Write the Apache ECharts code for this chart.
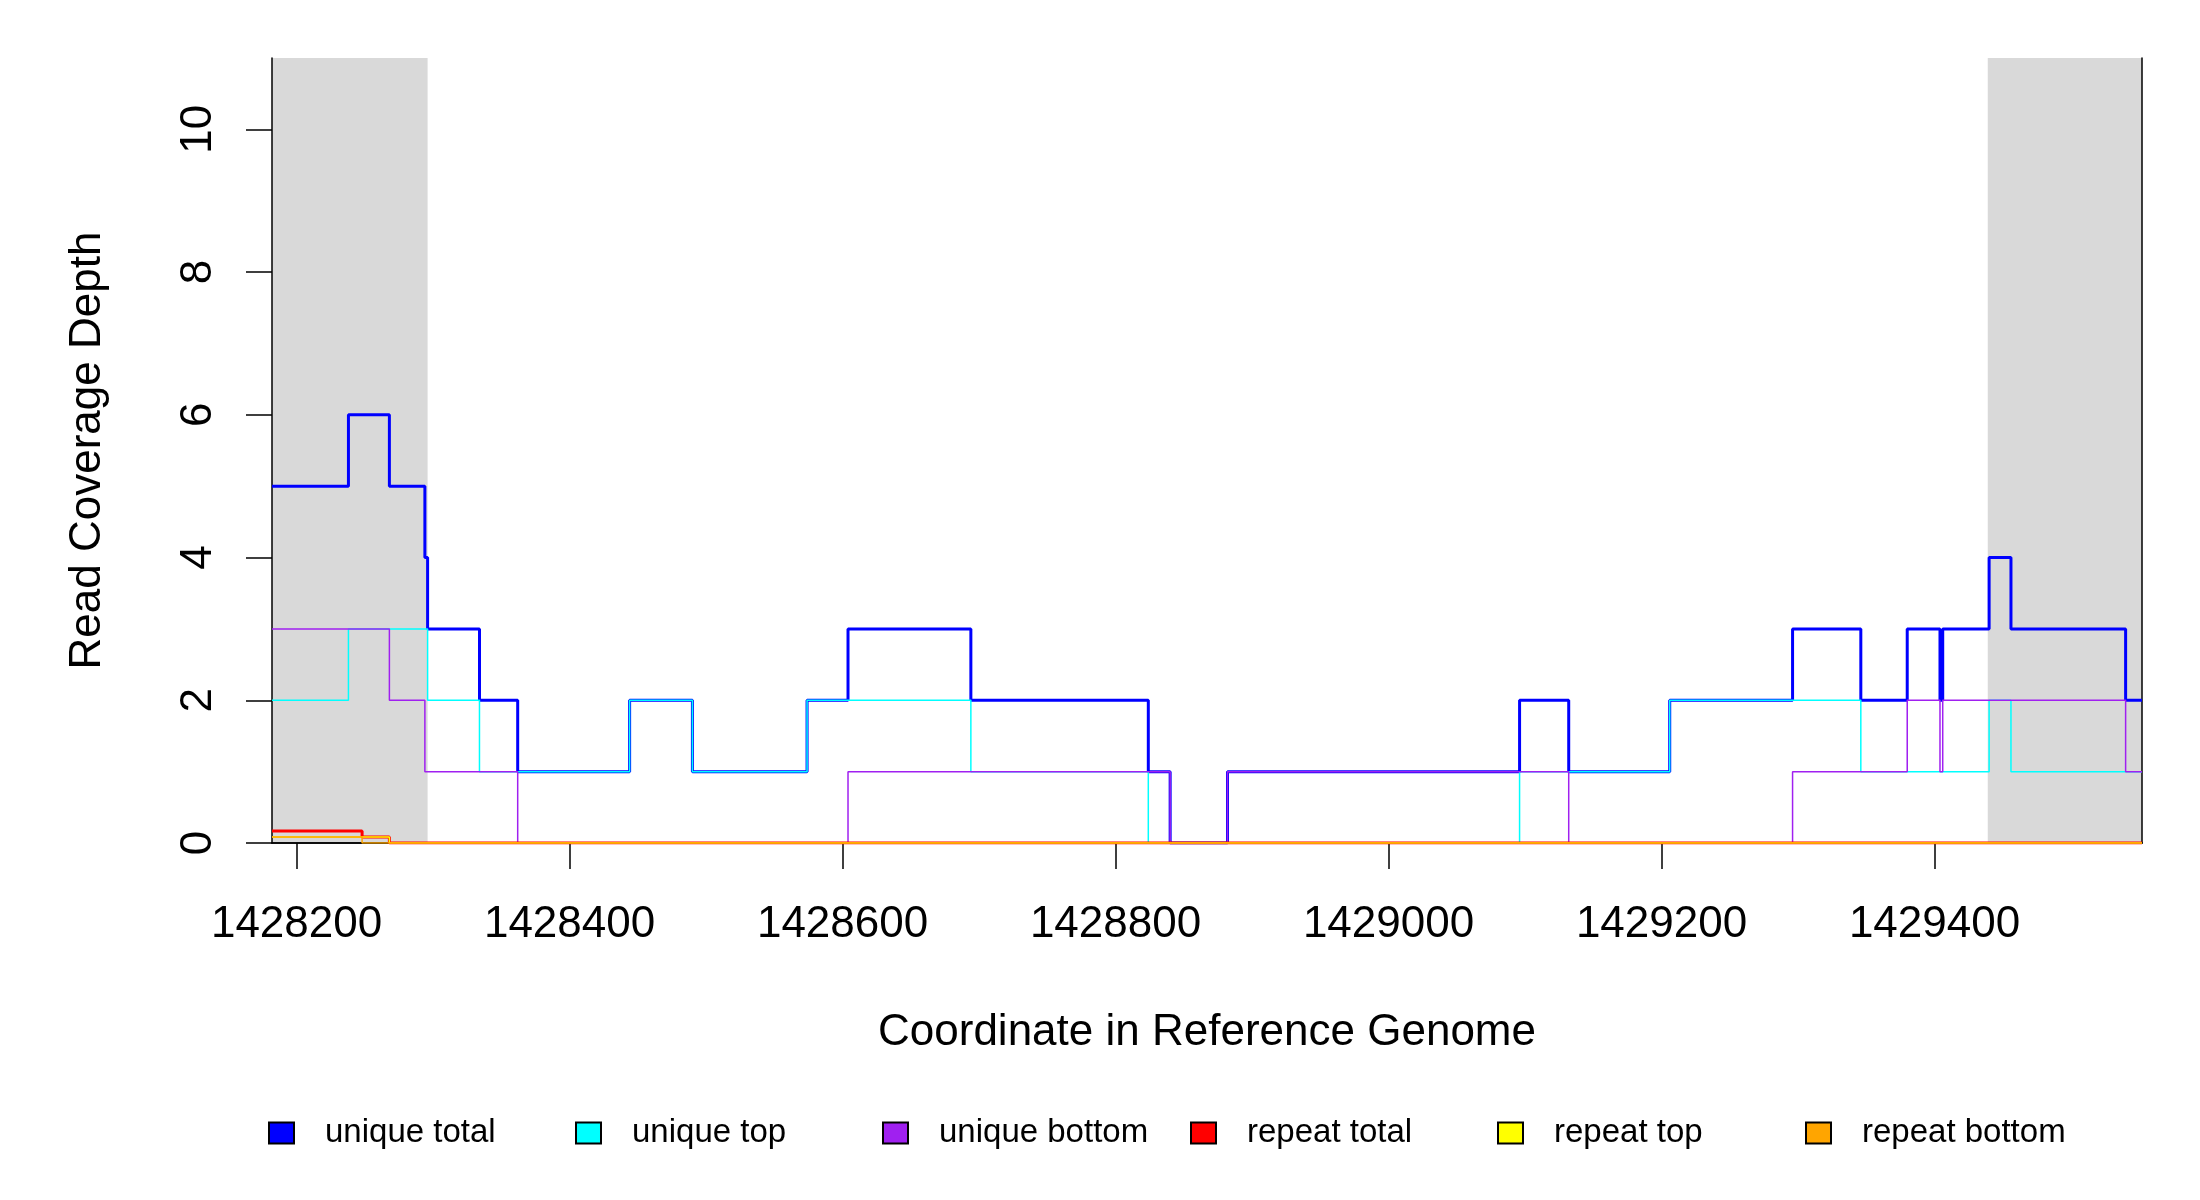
<!DOCTYPE html>
<html>
<head>
<meta charset="utf-8">
<title>Read Coverage Depth</title>
<script src="https://cdn.jsdelivr.net/npm/echarts@6/dist/echarts.min.js"></script>
<style>
  html, body { margin: 0; padding: 0; background: #fff; }
  #chart { width: 2200px; height: 1200px; }
</style>
</head>
<body>
<div id="chart"></div>
<script>
// 坐标范围与刻度
const xMin = 1428182;
const xMax = 1429552;
const xTicks = [1428200, 1428400, 1428600, 1428800, 1429000, 1429200, 1429400];
const yTicks = [0, 2, 4, 6, 8, 10];

// 灰色区域 (start, end)
const shadeLeft = [1428182, 1428296];
const shadeRight = [1429439, 1429552];

// 每条阶梯线：断点位置 + 该处开始的值
const uniqueTotalX = [1428182, 1428238, 1428268, 1428294, 1428296, 1428334, 1428362, 1428444, 1428490,
  1428574, 1428604, 1428694, 1428824, 1428840, 1428882, 1429096, 1429132, 1429206, 1429296,
  1429346, 1429380, 1429404, 1429406, 1429440, 1429456, 1429540, 1429552];
const uniqueTotalY = [5, 6, 5, 4, 3, 2, 1, 2, 1, 2, 3, 2, 1, 0, 1, 2, 1, 2, 3, 2, 3, 2, 3, 4, 3, 2, 2];

const uniqueTopX = [1428182, 1428238, 1428296, 1428334, 1428444, 1428490, 1428574, 1428694, 1428824,
  1429096, 1429206, 1429346, 1429440, 1429456, 1429552];
const uniqueTopY = [2, 3, 2, 1, 2, 1, 2, 1, 0, 1, 2, 1, 2, 1, 1];

const uniqueBottomX = [1428182, 1428268, 1428294, 1428362, 1428604, 1428840, 1428882, 1429132, 1429296,
  1429380, 1429404, 1429406, 1429540, 1429552];
const uniqueBottomY = [3, 2, 1, 0, 1, 0, 1, 0, 1, 2, 1, 2, 1, 1];

const repeatTotalX = [1428182, 1428248, 1428268, 1429552];
const repeatTotalY = [0.167, 0.083, 0, 0];

const repeatTopX = [1428182, 1428268, 1429552];
const repeatTopY = [0.083, 0, 0];

const repeatBottomX = [1428182, 1428248, 1429552];
const repeatBottomY = [0.083, 0, 0];

const seriesNames = ['unique total', 'unique top', 'unique bottom', 'repeat total', 'repeat top', 'repeat bottom'];
const seriesColors = ['#0000ff', '#00ffff', '#a020f0', '#ff0000', '#ffff00', '#ffa500'];
const seriesWidths = [3, 1.5, 1.5, 3, 1.5, 1.5];
const seriesXs = [uniqueTotalX, uniqueTopX, uniqueBottomX, repeatTotalX, repeatTopX, repeatBottomX];
const seriesYs = [uniqueTotalY, uniqueTopY, uniqueBottomY, repeatTotalY, repeatTopY, repeatBottomY];

const FONT = 'Liberation Sans, Arial, sans-serif';

function pairs(xs, ys) {
  return xs.map((x, i) => [x, ys[i]]);
}

var chart = echarts.init(document.getElementById('chart'));

var series = [{
  // 只用来画灰色区域
  type: 'line',
  name: 'shade',
  data: [],
  z: 1,
  silent: true,
  markArea: {
    silent: true,
    itemStyle: { color: '#d9d9d9' },
    data: [
      [{ xAxis: shadeLeft[0] }, { xAxis: shadeLeft[1] }],
      [{ xAxis: shadeRight[0] }, { xAxis: shadeRight[1] }]
    ]
  }
}];

// 线画在坐标轴上面，和原图一样
seriesNames.forEach(function(name, i) {
  series.push({
    type: 'line',
    name: name,
    step: 'end',
    data: pairs(seriesXs[i], seriesYs[i]),
    showSymbol: false,
    symbol: 'none',
    z: 12,
    itemStyle: { color: seriesColors[i] },
    lineStyle: { color: seriesColors[i], width: seriesWidths[i] }
  });
});

// 图例：每项单独放，间距与原图一致
const legendLeft = [268, 575, 882, 1190, 1497, 1805];
var legends = seriesNames.map(function(name, i) {
  return {
    data: [name],
    left: legendLeft[i],
    top: 1113,
    padding: 0,
    icon: 'rect',
    itemWidth: 25,
    itemHeight: 21,
    selectedMode: false,
    itemStyle: { borderColor: '#000', borderWidth: 2 },
    textStyle: { fontSize: 33, fontFamily: FONT, color: '#000', lineHeight: 40, padding: [0, 0, 0, 26] }
  };
});

var axisLineStyle = { color: '#000', width: 1.5 };

var option = {
  animation: false,
  backgroundColor: '#fff',
  legend: legends,
  grid: { left: 272, top: 58, width: 1870, height: 785 },
  xAxis: [{
    type: 'value',
    min: xMin,
    max: xMax,
    z: 10,
    name: 'Coordinate in Reference Genome',
    nameLocation: 'middle',
    nameGap: 168,
    nameTextStyle: { fontSize: 44, fontFamily: FONT, color: '#000' },
    axisLine: { show: true, lineStyle: axisLineStyle },
    axisTick: { show: true, length: 26, lineStyle: axisLineStyle, customValues: xTicks },
    axisLabel: {
      customValues: xTicks,
      fontSize: 44, fontFamily: FONT, color: '#000', margin: 60,
      formatter: function(v) { return String(v); }
    },
    splitLine: { show: false }
  }, {
    type: 'value',
    position: 'top',
    min: xMin,
    max: xMax,
    z: 10,
    axisLine: { show: true, lineStyle: axisLineStyle },
    axisTick: { show: false },
    axisLabel: { show: false },
    splitLine: { show: false }
  }],
  yAxis: [{
    type: 'value',
    min: 0,
    max: 11,
    z: 10,
    name: 'Read Coverage Depth',
    nameLocation: 'middle',
    nameGap: 162,
    nameTextStyle: { fontSize: 44, fontFamily: FONT, color: '#000' },
    axisLine: { show: true, lineStyle: axisLineStyle },
    axisTick: { show: true, length: 26, lineStyle: axisLineStyle, customValues: yTicks },
    axisLabel: {
      customValues: yTicks,
      rotate: 90,
      fontSize: 44, fontFamily: FONT, color: '#000', margin: 51
    },
    splitLine: { show: false }
  }, {
    type: 'value',
    position: 'right',
    min: 0,
    max: 11,
    z: 10,
    axisLine: { show: true, lineStyle: axisLineStyle },
    axisTick: { show: false },
    axisLabel: { show: false },
    splitLine: { show: false }
  }],
  series: series
};

chart.setOption(option);

window.addEventListener('resize', function() {
  if (chart) chart.resize();
});
</script>
</body>
</html>
